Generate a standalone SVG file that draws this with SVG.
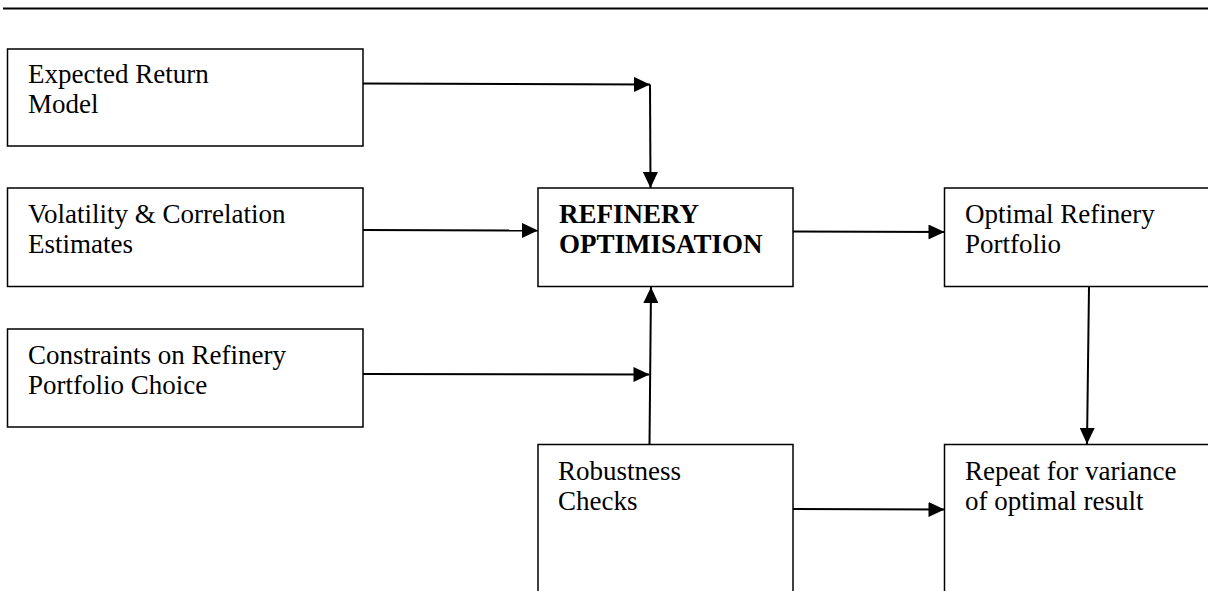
<svg xmlns="http://www.w3.org/2000/svg" width="1208" height="591" viewBox="0 0 1208 591">
<defs>
<style>
.box{fill:#fff;stroke:#000;stroke-width:1.5}
.t{font-family:"Liberation Serif","Times New Roman",serif;font-size:27px;fill:#000}
.b{font-weight:bold}
.c{stroke:#000;stroke-width:2;fill:none}
</style>
<marker id="ah" viewBox="0 0 16 15" refX="16" refY="7.5" markerWidth="16" markerHeight="15" markerUnits="userSpaceOnUse" orient="auto">
<path d="M0,0 L16,7.5 L0,15 Z" fill="#000"/>
</marker>
</defs>
<rect width="1208" height="591" fill="#fff"/>
<line x1="3" y1="8.5" x2="1208" y2="8.5" stroke="#000" stroke-width="2"/>
<g id="n1"><rect class="box" x="7.5" y="49" width="355.5" height="97"/><text class="t" x="28" y="83">Expected Return</text><text class="t" x="28" y="113">Model</text></g>
<g id="n2"><rect class="box" x="7.5" y="188" width="355.5" height="98.5"/><text class="t" x="28" y="223">Volatility &amp; Correlation</text><text class="t" x="28" y="253">Estimates</text></g>
<g id="n3"><rect class="box" x="7.5" y="329" width="355.5" height="98"/><text class="t" x="28" y="364">Constraints on Refinery</text><text class="t" x="28" y="394">Portfolio Choice</text></g>
<g id="n4"><rect class="box" x="538" y="188" width="255" height="98.5"/><text class="t b" x="559" y="223">REFINERY</text><text class="t b" x="559" y="253">OPTIMISATION</text></g>
<g id="n5"><rect class="box" x="944.5" y="188" width="275" height="98.5"/><text class="t" x="965" y="223">Optimal Refinery</text><text class="t" x="965" y="253">Portfolio</text></g>
<g id="n6"><rect class="box" x="538" y="444.5" width="255" height="160"/><text class="t" x="558" y="480">Robustness</text><text class="t" x="558" y="510">Checks</text></g>
<g id="n7"><rect class="box" x="944.5" y="444.5" width="275" height="160"/><text class="t" x="965" y="480">Repeat for variance</text><text class="t" x="965" y="510">of optimal result</text></g>
<g id="connectors">
<line class="c" x1="363" y1="83.5" x2="650" y2="84.5" marker-end="url(#ah)"/>
<line class="c" x1="650" y1="84.5" x2="650.5" y2="188" marker-end="url(#ah)"/>
<line class="c" x1="363" y1="230" x2="538" y2="230.5" marker-end="url(#ah)"/>
<line class="c" x1="363" y1="374" x2="649.5" y2="374.5" marker-end="url(#ah)"/>
<line class="c" x1="649.5" y1="444.5" x2="651" y2="287" marker-end="url(#ah)"/>
<line class="c" x1="793" y1="231.5" x2="944.5" y2="232" marker-end="url(#ah)"/>
<line class="c" x1="1089" y1="287" x2="1087" y2="444" marker-end="url(#ah)"/>
<line class="c" x1="793" y1="509" x2="944.5" y2="509.5" marker-end="url(#ah)"/>
</g>
</svg>
